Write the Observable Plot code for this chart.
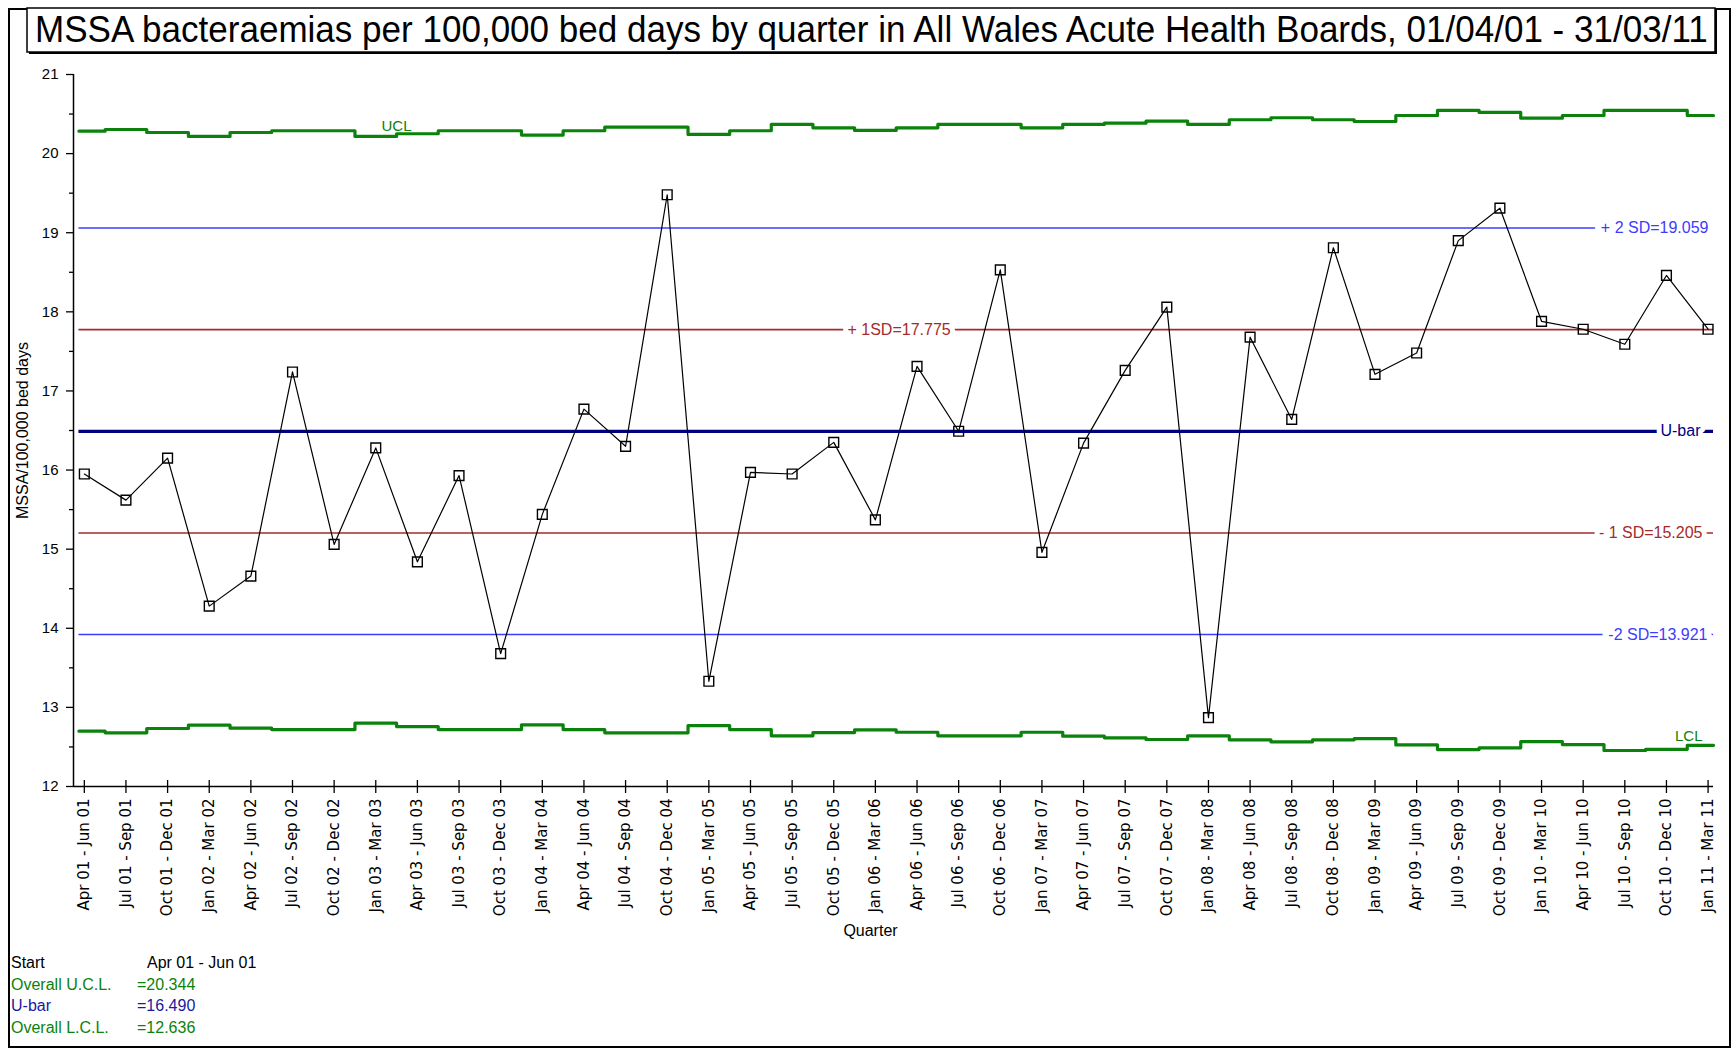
<!DOCTYPE html>
<html><head><meta charset="utf-8">
<script src="https://cdn.jsdelivr.net/npm/d3@7"></script>
<script src="https://cdn.jsdelivr.net/npm/@observablehq/plot@0.6"></script>
<style>
html,body{margin:0;padding:0;background:#fff;}
#page{position:relative;width:1733px;height:1050px;overflow:hidden;font-family:"Liberation Sans",Arial,sans-serif;background:#fff;}
#frame{position:absolute;left:8px;top:8px;width:1723px;height:1040px;border:2px solid #000;box-sizing:border-box;}
#titlebox{position:absolute;left:0;top:0;overflow:visible;}
#chart{position:absolute;left:0;top:55px;}
.leg{position:absolute;font-size:16px;line-height:20px;white-space:nowrap;}
</style></head>
<body>
<div id="page">
  <div id="frame"></div>
  <div id="chart"></div>
  <svg id="titlebox" width="1733" height="60"></svg>
  <div id="legend"></div>
</div>
<script>
const title = "MSSA bacteraemias per 100,000 bed days by quarter in All Wales Acute Health Boards, 01/04/01 - 31/03/11";

const quarters = [
  "Apr 01 - Jun 01","Jul 01 - Sep 01","Oct 01 - Dec 01","Jan 02 - Mar 02",
  "Apr 02 - Jun 02","Jul 02 - Sep 02","Oct 02 - Dec 02","Jan 03 - Mar 03",
  "Apr 03 - Jun 03","Jul 03 - Sep 03","Oct 03 - Dec 03","Jan 04 - Mar 04",
  "Apr 04 - Jun 04","Jul 04 - Sep 04","Oct 04 - Dec 04","Jan 05 - Mar 05",
  "Apr 05 - Jun 05","Jul 05 - Sep 05","Oct 05 - Dec 05","Jan 06 - Mar 06",
  "Apr 06 - Jun 06","Jul 06 - Sep 06","Oct 06 - Dec 06","Jan 07 - Mar 07",
  "Apr 07 - Jun 07","Jul 07 - Sep 07","Oct 07 - Dec 07","Jan 08 - Mar 08",
  "Apr 08 - Jun 08","Jul 08 - Sep 08","Oct 08 - Dec 08","Jan 09 - Mar 09",
  "Apr 09 - Jun 09","Jul 09 - Sep 09","Oct 09 - Dec 09","Jan 10 - Mar 10",
  "Apr 10 - Jun 10","Jul 10 - Sep 10","Oct 10 - Dec 10","Jan 11 - Mar 11"
];

const rate = [15.95, 15.62, 16.15, 14.28, 14.66, 17.24, 15.06, 16.28, 14.84, 15.93,
              13.68, 15.44, 16.77, 16.30, 19.48, 13.33, 15.97, 15.95, 16.35, 15.37,
              17.31, 16.49, 18.53, 14.96, 16.34, 17.26, 18.06, 12.87, 17.68, 16.64,
              18.81, 17.21, 17.48, 18.90, 19.31, 17.88, 17.78, 17.59, 18.46, 17.78];

const ucl = [20.284, 20.305, 20.267, 20.217, 20.267, 20.289, 20.289, 20.217, 20.251, 20.289,
             20.289, 20.234, 20.289, 20.335, 20.335, 20.242, 20.289, 20.369, 20.326, 20.293,
             20.326, 20.369, 20.369, 20.326, 20.369, 20.385, 20.410, 20.369, 20.428, 20.453,
             20.428, 20.406, 20.482, 20.546, 20.520, 20.448, 20.482, 20.546, 20.546, 20.482];

const lcl = [12.699, 12.678, 12.733, 12.775, 12.737, 12.720, 12.720, 12.800, 12.758, 12.720,
             12.720, 12.780, 12.720, 12.678, 12.678, 12.770, 12.720, 12.640, 12.682, 12.716,
             12.686, 12.640, 12.640, 12.686, 12.636, 12.615, 12.594, 12.640, 12.590, 12.565,
             12.590, 12.606, 12.526, 12.467, 12.489, 12.568, 12.530, 12.455, 12.470, 12.520];

const uBar = 16.490;
const overallUCL = 20.344;
const overallLCL = 12.636;
const plus2SD = 19.059;
const plus1SD = 17.775;
const minus1SD = 15.205;
const minus2SD = 13.921;

const yTicks = [12, 13, 14, 15, 16, 17, 18, 19, 20, 21];
const yMinorTicks = [12.5, 13.5, 14.5, 15.5, 16.5, 17.5, 18.5, 19.5, 20.5];

const legendLabels = ["Start", "Overall U.C.L.", "U-bar", "Overall L.C.L."];
const legendValues = [quarters[0], "=" + overallUCL.toFixed(3), "=" + uBar.toFixed(3), "=" + overallLCL.toFixed(3)];

// ---------- layout ----------
const W = 1733, H = 895;
const mTop = 19, mBottom = 164, mLeft = 73, mRight = 20;
const innerH = H - mTop - mBottom;
const xDomain = [-0.26, 39.13];
const lineSpan = [-0.13, 39.13];
const yDomain = [yTicks[0], yTicks[yTicks.length - 1]];

const GREEN = "#0b820b", NAVY = "#000080", BLUE = "#3c3cff", RED = "#a52a2a";

const idx = quarters.map((_, i) => i);
const stepRows = vals => [
  {i: lineSpan[0], v: vals[0]},
  ...vals.map((v, i) => ({i, v})),
  {i: lineSpan[1], v: vals[vals.length - 1]}
];

const halo = {stroke: "white", strokeWidth: 10, paintOrder: "stroke", fontSize: 16};
const haloWide = {stroke: "white", strokeWidth: 13, paintOrder: "stroke", fontSize: 16};

const chart = Plot.plot({
  width: W, height: H,
  marginTop: mTop, marginBottom: mBottom, marginLeft: mLeft, marginRight: mRight,
  style: {fontFamily: "'Liberation Sans', Arial, sans-serif", fontSize: "14px", background: "transparent", overflow: "visible"},
  x: {type: "linear", domain: xDomain},
  y: {type: "linear", domain: yDomain},
  marks: [
    // reference lines
    Plot.ruleY([plus2SD, minus2SD], {x1: lineSpan[0], x2: lineSpan[1], stroke: BLUE, strokeWidth: 1.6}),
    Plot.ruleY([plus1SD, minus1SD], {x1: lineSpan[0], x2: lineSpan[1], stroke: RED, strokeWidth: 1.6}),
    Plot.ruleY([uBar], {x1: lineSpan[0], x2: lineSpan[1], stroke: NAVY, strokeWidth: 3.2}),
    Plot.line(stepRows(ucl), {x: "i", y: "v", curve: "step", stroke: GREEN, strokeWidth: 3.2}),
    Plot.line(stepRows(lcl), {x: "i", y: "v", curve: "step", stroke: GREEN, strokeWidth: 3.2}),

    // line labels
    Plot.text([plus2SD], {y: d => d, text: d => "+ 2 SD=" + d.toFixed(3), frameAnchor: "right", textAnchor: "end", lineAnchor: "middle", dx: -5, fill: BLUE, ...haloWide}),
    Plot.text([plus1SD], {y: d => d, text: d => "+ 1SD=" + d.toFixed(3), frameAnchor: "left", textAnchor: "start", lineAnchor: "middle", dx: 774, fill: RED, ...halo}),
    Plot.text([uBar], {y: d => d, text: () => "U-bar", frameAnchor: "right", textAnchor: "end", lineAnchor: "middle", dx: -13, fill: NAVY, ...halo}),
    Plot.text([minus1SD], {y: d => d, text: d => "- 1 SD=" + d.toFixed(3), frameAnchor: "right", textAnchor: "end", lineAnchor: "middle", dx: -11, fill: RED, ...halo}),
    Plot.text([minus2SD], {y: d => d, text: d => "-2 SD=" + d.toFixed(3), frameAnchor: "right", textAnchor: "end", lineAnchor: "middle", dx: -6, fill: BLUE, ...haloWide}),
    Plot.text([overallUCL], {y: d => d, text: () => "UCL", frameAnchor: "left", textAnchor: "start", lineAnchor: "middle", dx: 308, fill: GREEN, fontSize: 15}),
    Plot.text([overallLCL], {y: d => d, text: () => "LCL", frameAnchor: "right", textAnchor: "end", lineAnchor: "middle", dx: -11, fill: GREEN, fontSize: 15}),

    // data series
    Plot.line(idx, {x: d => d, y: d => rate[d], stroke: "#000", strokeWidth: 1.2}),
    Plot.dot(idx, {x: d => d, y: d => rate[d], symbol: "square", r: 5.5, stroke: "#000", strokeWidth: 1.4, fill: "none"}),

    // axes
    Plot.ruleX([xDomain[0]], {y1: yDomain[0], y2: yDomain[1], stroke: "#000", strokeWidth: 1.5}),
    Plot.ruleY([yDomain[0]], {x1: xDomain[0], x2: xDomain[1], stroke: "#000", strokeWidth: 1.5}),
    Plot.axisY({ticks: yTicks, tickSize: 7, tickPadding: 8, fontSize: 15, label: null, strokeWidth: 1.3}),
    Plot.axisY({ticks: yMinorTicks, tickSize: 4, tickFormat: () => "", label: null, strokeWidth: 1.3}),
    Plot.axisX({ticks: idx, tickFormat: i => quarters[i], tickRotate: -90, tickSize: 7, tickPadding: 5,
                fontSize: 15, fontFamily: "'DejaVu Sans', Verdana, sans-serif", label: null, strokeWidth: 1.3}),
    Plot.ruleX(idx, {x: d => d, insetTop: innerH - 6, stroke: "#000", strokeWidth: 1.3}),

    // axis titles
    Plot.text(["MSSA/100,000 bed days"], {frameAnchor: "left", rotate: -90, dx: -51, textAnchor: "middle", lineAnchor: "middle", fontSize: 16, fill: "#000"}),
    Plot.text(["Quarter"], {frameAnchor: "bottom", dy: 144, dx: -23, textAnchor: "middle", lineAnchor: "middle", fontSize: 16, fill: "#000"})
  ]
});
document.getElementById("chart").appendChild(chart);

// ---------- title ----------
const ts = d3.select("#titlebox");
ts.append("rect").attr("x", 29).attr("y", 10).attr("width", 1688).attr("height", 44).attr("fill", "#000");
ts.append("rect").attr("x", 27).attr("y", 8).attr("width", 1688).attr("height", 44)
  .attr("fill", "#fff").attr("stroke", "#000").attr("stroke-width", 1.5);
const titleWidth = 1673, titleHeightSize = 36;
const tt = ts.append("text")
  .attr("font-family", "'Liberation Sans', Arial, sans-serif").attr("font-size", titleHeightSize)
  .attr("fill", "#000").text(title);
const natural = tt.node().getComputedTextLength();
const fs = titleHeightSize * titleWidth / natural;
tt.attr("font-size", fs)
  .attr("transform", `translate(35,42) scale(1,${(titleHeightSize / fs).toFixed(4)})`);

// ---------- legend ----------
const legColors = ["#000", GREEN, "#1a1aa0", GREEN];
const legValueX = [147, 137, 137, 137];
const leg = d3.select("#legend");
legendLabels.forEach((lab, i) => {
  const top = 953 + i * 21.6;
  leg.append("div").attr("class", "leg").style("left", "11px").style("top", top + "px").style("color", legColors[i]).text(lab);
  leg.append("div").attr("class", "leg").style("left", legValueX[i] + "px").style("top", top + "px").style("color", legColors[i]).text(legendValues[i]);
});
</script>
</body></html>
